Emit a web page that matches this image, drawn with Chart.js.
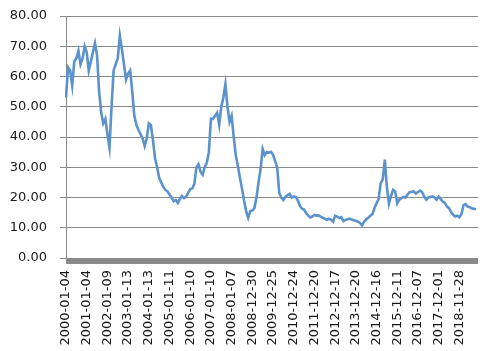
<!DOCTYPE html>
<html>
<head>
<meta charset="utf-8">
<script src="https://cdn.jsdelivr.net/npm/chart.js@4/dist/chart.umd.min.js"></script>
<style>
  html, body { margin: 0; padding: 0; background: #ffffff; }
  #wrap { width: 493px; height: 351px; }
</style>
</head>
<body>
<div id="wrap"><canvas id="c" width="493" height="351"></canvas></div>
<script>
// Tick labels shown on the category axis (one every 10 samples)
const dateTicks = [
  "2000-01-04","2001-01-04","2002-01-09","2003-01-13","2004-01-13",
  "2005-01-11","2006-01-10","2007-01-10","2008-01-07","2008-12-30",
  "2009-12-25","2010-12-24","2011-12-20","2012-12-17","2013-12-20",
  "2014-12-16","2015-12-11","2016-12-07","2017-12-01","2018-11-28"
];
const samplesPerTick = 10;

const values = [
  53, 63, 62, 57, 65, 66, 68.5, 64, 66, 70,
  68, 62, 65, 68, 71, 67, 55, 48, 44.5, 46,
  41, 36.5, 50, 62, 64, 66, 73.5, 69, 64, 59,
  61, 62, 55, 47, 44, 42.3, 41, 39.5, 37, 39.5,
  44.5, 44, 39, 33, 30, 26.5, 25, 23.5, 22.5, 22,
  21, 20, 18.8, 19.2, 18.2, 19.5, 20.5, 19.8, 20.3, 21.5,
  22.8, 23, 24.5, 30, 31, 28.5, 27.5, 30, 31.5, 35,
  46, 46, 47, 48, 44, 50, 53, 57.5, 50, 45,
  47, 40, 34, 30.5, 26.5, 23, 19, 15.5, 13.3, 15.5,
  15.7, 16.5, 20, 25, 29.5, 36, 34, 35, 34.8, 35.1,
  34.2, 32, 30, 21.5, 20, 19.2, 20.2, 20.8, 21.2, 20,
  20.3, 20.2, 19, 17.2, 16.3, 16, 14.8, 14, 13.4, 13.7,
  14.2, 14, 14.1, 13.7, 13.3, 13, 12.6, 13, 12.6, 12,
  14, 13.7, 13.2, 13.5, 12.2, 12.6, 12.8, 13, 12.7, 12.5,
  12.3, 12, 11.6, 10.8, 12, 12.8, 13.3, 14, 14.5, 16.5,
  18.1, 19.5, 24.7, 26, 32.5, 23.3, 18, 20.5, 22.5, 22,
  18.1, 19.3, 19.8, 20.2, 20, 21, 21.8, 21.9, 22, 21.3,
  21.8, 22.3, 21.8, 20.3, 19.3, 20, 20.2, 20.4, 20, 19.3,
  20.3, 19.5, 18.6, 18.2, 17, 16.5, 15.2, 14.3, 13.7, 14,
  13.5, 14.5, 17.5, 17.8, 17, 16.8, 16.4, 16.3, 16.1
];

// Y axis tick range
const yMin = 0, yMax = 80, yStep = 10;

// Category labels: a date every samplesPerTick samples, blank otherwise (one spare slot at the end)
const categories = [];
for (let k = 0; k <= values.length; k++) {
  categories.push(k % samplesPerTick === 0 && dateTicks[k / samplesPerTick] ? dateTicks[k / samplesPerTick] : "");
}

const GRID = '#8a8a8a';
const FONT = { family: 'DejaVu Sans', size: 13 };

// Thick grey band under the plot, like the reference's category axis
const axisBand = {
  id: 'axisBand',
  beforeDatasetsDraw(chart) {
    const { ctx, chartArea } = chart;
    ctx.save();
    ctx.fillStyle = GRID;
    ctx.fillRect(chartArea.left, chartArea.bottom, chartArea.right - chartArea.left, 6);
    ctx.restore();
  }
};

new Chart(document.getElementById('c'), {
  type: 'line',
  data: {
    labels: categories,
    datasets: [{
      data: values,
      borderColor: '#5b92cb',
      borderWidth: 2.6,
      pointRadius: 0,
      tension: 0,
      fill: false
    }]
  },
  options: {
    responsive: false,
    animation: false,
    layout: { padding: { left: 10, right: 15, top: 16, bottom: 5 } },
    plugins: { legend: { display: false }, tooltip: { enabled: false } },
    scales: {
      x: {
        type: 'category',
        offset: false,
        grid: { display: false, drawTicks: false },
        border: { display: false },
        afterFit: (s) => { s.height = 88; s.paddingLeft = 0; s.paddingRight = 0; },
        ticks: {
          autoSkip: false,
          maxRotation: 90,
          minRotation: 90,
          padding: 12,
          color: '#1a1a1a',
          font: FONT,
          callback: function (v) { return this.getLabelForValue(v); }
        }
      },
      y: {
        min: yMin,
        max: yMax,
        grid: { color: GRID, lineWidth: 1, tickLength: 6, drawTicks: true },
        border: { display: true, color: GRID, width: 1 },
        afterFit: (s) => { s.width = 56; s.paddingTop = 0; s.paddingBottom = 0; },
        ticks: {
          stepSize: yStep,
          padding: 13,
          color: '#1a1a1a',
          font: FONT,
          callback: (v) => Number(v).toFixed(2)
        }
      }
    }
  },
  plugins: [axisBand]
});
</script>
</body>
</html>
